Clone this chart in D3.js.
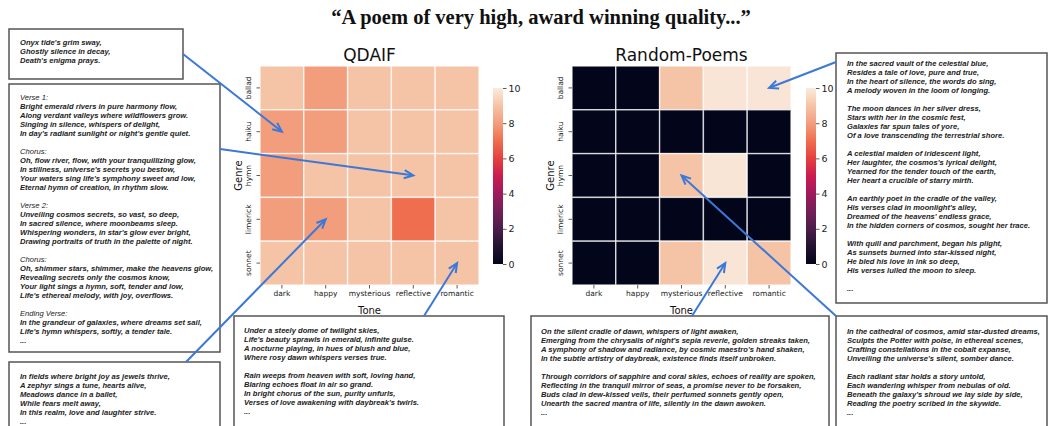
<!DOCTYPE html>
<html><head><meta charset="utf-8">
<script src="https://cdn.jsdelivr.net/npm/d3@7"></script>
<style>
html,body{margin:0;padding:0;background:#fff;}
svg{display:block;}
</style></head>
<body><svg id="chart" width="1050" height="426"></svg>
<script>
// ---------- data ----------
const figureTitle = "\u201CA poem of very high, award winning quality...\u201D";
const panelTitles = ["QDAIF", "Random-Poems"];
const genres = ["ballad", "haiku", "hymn", "limerick", "sonnet"];
const tones = ["dark", "happy", "mysterious", "reflective", "romantic"];
const qdaifScores = [
  [9, 8, 9, 9, 9],
  [8, 8, 9, 9, 9],
  [8, 9, 9, 9, 9],
  [8, 8, 9, 7, 9],
  [9, 9, 9, 9, 9]
];
const randomScores = [
  [0, 0, 9, 9.85, 9.85],
  [0, 0, 0, 0, 0],
  [0, 0, 9, 9.85, 0],
  [0, 0, 0, 0, 0],
  [0, 0, 9, 9.85, 9]
];
const colorbarTicks = [0, 2, 4, 6, 8, 10];
const xAxisLabel = "Tone";
const yAxisLabel = "Genre";

const poemA = ["Onyx tide's grim sway,", "Ghostly silence in decay,", "Death's enigma prays."];
const poemB = ["Verse 1:", "Bright emerald rivers in pure harmony flow,", "Along verdant valleys where wildflowers grow.", "Singing in silence, whispers of delight,", "In day's radiant sunlight or night's gentle quiet.", "",
  "Chorus:", "Oh, flow river, flow, with your tranquillizing glow,", "In stillness, universe's secrets you bestow,", "Your waters sing life's symphony sweet and low,", "Eternal hymn of creation, in rhythm slow.", "",
  "Verse 2:", "Unveiling cosmos secrets, so vast, so deep,", "In sacred silence, where moonbeams sleep.", "Whispering wonders, in star's glow ever bright,", "Drawing portraits of truth in the palette of night.", "",
  "Chorus:", "Oh, shimmer stars, shimmer, make the heavens glow,", "Revealing secrets only the cosmos know,", "Your light sings a hymn, soft, tender and low,", "Life's ethereal melody, with joy, overflows.", "",
  "Ending Verse:", "In the grandeur of galaxies, where dreams set sail,", "Life's hymn whispers, softly, a tender tale.", "..."];
const poemC = ["In fields where bright joy as jewels thrive,", "A zephyr sings a tune, hearts alive,", "Meadows dance in a ballet,", "While fears melt away,", "In this realm, love and laughter strive.", "..."];
const poemD = ["Under a steely dome of twilight skies,", "Life's beauty sprawls in emerald, infinite guise.", "A nocturne playing, in hues of blush and blue,", "Where rosy dawn whispers verses true.", "",
  "Rain weeps from heaven with soft, loving hand,", "Blaring echoes float in air so grand.", "In bright chorus of the sun, purity unfurls,", "Verses of love awakening with daybreak's twirls.", "..."];
const poemE = ["On the silent cradle of dawn, whispers of light awaken,", "Emerging from the chrysalis of night's sepia reverie, golden streaks taken,", "A symphony of shadow and radiance, by cosmic maestro's hand shaken,", "In the subtle artistry of daybreak, existence finds itself unbroken.", "",
  "Through corridors of sapphire and coral skies, echoes of reality are spoken,", "Reflecting in the tranquil mirror of seas, a promise never to be forsaken,", "Buds clad in dew-kissed veils, their perfumed sonnets gently open,", "Unearth the sacred mantra of life, silently in the dawn awoken.", "..."];
const poemF = ["In the cathedral of cosmos, amid star-dusted dreams,", "Sculpts the Potter with poise, in ethereal scenes,", "Crafting constellations in the cobalt expanse,", "Unveiling the universe's silent, somber dance.", "",
  "Each radiant star holds a story untold,", "Each wandering whisper from nebulas of old.", "Beneath the galaxy's shroud we lay side by side,", "Reading the poetry scribed in the skywide.", "..."];
const poemG = ["In the sacred vault of the celestial blue,", "Resides a tale of love, pure and true,", "In the heart of silence, the words do sing,", "A melody woven in the loom of longing.", "",
  "The moon dances in her silver dress,", "Stars with her in the cosmic fest,", "Galaxies far spun tales of yore,", "Of a love transcending the terrestrial shore.", "",
  "A celestial maiden of iridescent light,", "Her laughter, the cosmos's lyrical delight,", "Yearned for the tender touch of the earth,", "Her heart a crucible of starry mirth.", "",
  "An earthly poet in the cradle of the valley,", "His verses clad in moonlight's alley,", "Dreamed of the heavens' endless grace,", "In the hidden corners of cosmos, sought her trace.", "",
  "With quill and parchment, began his plight,", "As sunsets burned into star-kissed night,", "He bled his love in ink so deep,", "His verses lulled the moon to sleep.", "", "..."];
const headerLines = ["Verse 1:", "Chorus:", "Verse 2:", "Ending Verse:"];

// ---------- layout ----------
const svg = d3.select("#chart");
const rocketStops = ["#03051a", "#221331", "#4b1d4a", "#721f57", "#a0195c", "#cb1b4f", "#e5413e", "#ef6e4f", "#f29e7d", "#f5c4a6", "#faebdd"];
const color = d3.scaleLinear()
  .domain(d3.range(rocketStops.length).map(i => i * 10 / (rocketStops.length - 1)))
  .range(rocketStops).interpolate(d3.interpolateRgb).clamp(true);

const font = "DejaVu Sans, sans-serif";
const panels = [
  {title: panelTitles[0], data: qdaifScores, x0: 260, cbx: 493},
  {title: panelTitles[1], data: randomScores, x0: 572, cbx: 806}
];
const hmTop = 66, hmSize = 219;

svg.append("text").attr("x", 541).attr("y", 24).attr("text-anchor", "middle")
  .attr("font-family", "Liberation Serif, serif").attr("font-weight", "bold")
  .attr("font-size", 20.5).attr("fill", "#111").text(figureTitle);

const scales = [];
panels.forEach((p, pi) => {
  const x = d3.scaleBand().domain(tones).range([p.x0, p.x0 + hmSize]);
  const y = d3.scaleBand().domain(genres).range([hmTop, hmTop + hmSize]);
  scales.push({x, y});
  const g = svg.append("g");
  const cells = [];
  genres.forEach((gname, r) => tones.forEach((t, c) => cells.push({g: gname, t, v: p.data[r][c]})));
  g.selectAll("rect.cell").data(cells).enter().append("rect")
    .attr("x", d => x(d.t)).attr("y", d => y(d.g))
    .attr("width", x.bandwidth()).attr("height", y.bandwidth())
    .attr("fill", d => color(d.v))
    .attr("stroke", "rgba(255,255,255,0.72)").attr("stroke-width", 1.4);

  const xa = svg.append("g").attr("transform", `translate(0,${hmTop + hmSize})`)
    .call(d3.axisBottom(x).tickSize(3.5).tickPadding(2));
  xa.select(".domain").remove();
  xa.selectAll("line").attr("stroke", "#333").attr("stroke-width", 0.8);
  xa.selectAll("text").attr("font-family", font).attr("font-size", 7.5).attr("fill", "#222");
  const ya = svg.append("g").attr("transform", `translate(${p.x0},0)`)
    .call(d3.axisLeft(y).tickSize(3.5).tickPadding(2));
  ya.select(".domain").remove();
  ya.selectAll("line").attr("stroke", "#333").attr("stroke-width", 0.8);
  ya.selectAll("text").attr("font-family", font).attr("font-size", 7.5).attr("fill", "#222")
    .attr("text-anchor", "middle").attr("dy", 0).attr("x", 0)
    .attr("transform", "translate(-9,0) rotate(-90)");

  svg.append("text").attr("x", p.x0 + hmSize / 2).attr("y", 61).attr("text-anchor", "middle")
    .attr("font-family", font).attr("font-size", 17).attr("fill", "#111").text(p.title);
  svg.append("text").attr("x", p.x0 + hmSize / 2).attr("y", 314).attr("text-anchor", "middle")
    .attr("font-family", font).attr("font-size", 10).attr("fill", "#111").text(xAxisLabel);
  svg.append("text").attr("transform", `translate(${p.x0 - 18.5},${hmTop + hmSize / 2}) rotate(-90)`)
    .attr("text-anchor", "middle")
    .attr("font-family", font).attr("font-size", 10).attr("fill", "#111").text(yAxisLabel);

  const cbTop = 88, cbBot = 264, cbW = 10;
  const cy = d3.scaleLinear().domain([0, 10]).range([cbBot, cbTop]);
  const gid = "cbgrad" + pi;
  const grad = svg.append("defs").append("linearGradient").attr("id", gid)
    .attr("x1", 0).attr("y1", 1).attr("x2", 0).attr("y2", 0);
  d3.range(0, 10.01, 0.5).forEach(v => grad.append("stop").attr("offset", v / 10).attr("stop-color", color(v)));
  svg.append("rect").attr("x", p.cbx).attr("y", cbTop).attr("width", cbW).attr("height", cbBot - cbTop)
    .attr("fill", `url(#${gid})`);
  const ca = svg.append("g").attr("transform", `translate(${p.cbx + cbW},0)`)
    .call(d3.axisRight(cy).tickValues(colorbarTicks).tickSize(3.5).tickPadding(2));
  ca.select(".domain").remove();
  ca.selectAll("line").attr("stroke", "#333").attr("stroke-width", 0.8);
  ca.selectAll("text").attr("font-family", font).attr("font-size", 9.5).attr("fill", "#222");
});

// ---------- text boxes ----------
const boxes = [
  {lines: poemA, x: 9, y: 29, w: 174, h: 50, tx: 20, ty: 42},
  {lines: poemB, x: 9, y: 84, w: 211, h: 268, tx: 20, ty: 97},
  {lines: poemC, x: 9, y: 362, w: 211, h: 90, tx: 20, ty: 376},
  {lines: poemD, x: 234, y: 316, w: 270, h: 130, tx: 244, ty: 330},
  {lines: poemE, x: 531, y: 316, w: 298, h: 130, tx: 541, ty: 331},
  {lines: poemF, x: 836, y: 316, w: 211, h: 130, tx: 847, ty: 331},
  {lines: poemG, x: 836, y: 53, w: 211, h: 250, tx: 847, ty: 63}
];
const pitch = 9;
boxes.forEach(b => {
  svg.append("rect").attr("x", b.x).attr("y", b.y).attr("width", b.w).attr("height", b.h)
    .attr("fill", "#fff").attr("stroke", "#555").attr("stroke-width", 1.5);
  const t = svg.append("text").attr("font-family", "Liberation Sans, Arial, sans-serif")
    .attr("font-style", "italic").attr("font-size", 7.6).attr("fill", "#222");
  b.lines.forEach((ln, i) => {
    if (!ln) return;
    t.append("tspan").attr("x", b.tx).attr("y", b.ty + i * pitch + 2.7)
      .attr("font-weight", headerLines.includes(ln) ? "normal" : "bold").text(ln);
  });
});

// ---------- arrows ----------
const arrows = [
  {from: [183, 54], panel: 0, g: "haiku", t: "dark"},
  {from: [220, 149], panel: 0, g: "hymn", t: "reflective"},
  {from: [186, 362], panel: 0, g: "limerick", t: "happy"},
  {from: [424, 316], panel: 0, g: "sonnet", t: "romantic"},
  {from: [836, 62], panel: 1, g: "ballad", t: "romantic"},
  {from: [836, 316], panel: 1, g: "hymn", t: "mysterious"},
  {from: [692, 316], panel: 1, g: "sonnet", t: "reflective"}
];
const ac = "#3b78d8";
arrows.forEach(a => {
  const s = scales[a.panel];
  const ex = s.x(a.t) + s.x.bandwidth() / 2, ey = s.y(a.g) + s.y.bandwidth() / 2;
  const [sx, sy] = a.from;
  const ang = Math.atan2(ey - sy, ex - sx);
  svg.append("line").attr("x1", sx).attr("y1", sy).attr("x2", ex - Math.cos(ang)).attr("y2", ey - Math.sin(ang))
    .attr("stroke", ac).attr("stroke-width", 2);
  const L = 10, sp = 0.42;
  const p1 = [ex - L * Math.cos(ang - sp), ey - L * Math.sin(ang - sp)];
  const p2 = [ex - L * Math.cos(ang + sp), ey - L * Math.sin(ang + sp)];
  svg.append("path").attr("d", `M${p1[0]},${p1[1]}L${ex},${ey}L${p2[0]},${p2[1]}`)
    .attr("fill", "none").attr("stroke", ac).attr("stroke-width", 2).attr("stroke-linejoin", "miter");
});
</script></body></html>
